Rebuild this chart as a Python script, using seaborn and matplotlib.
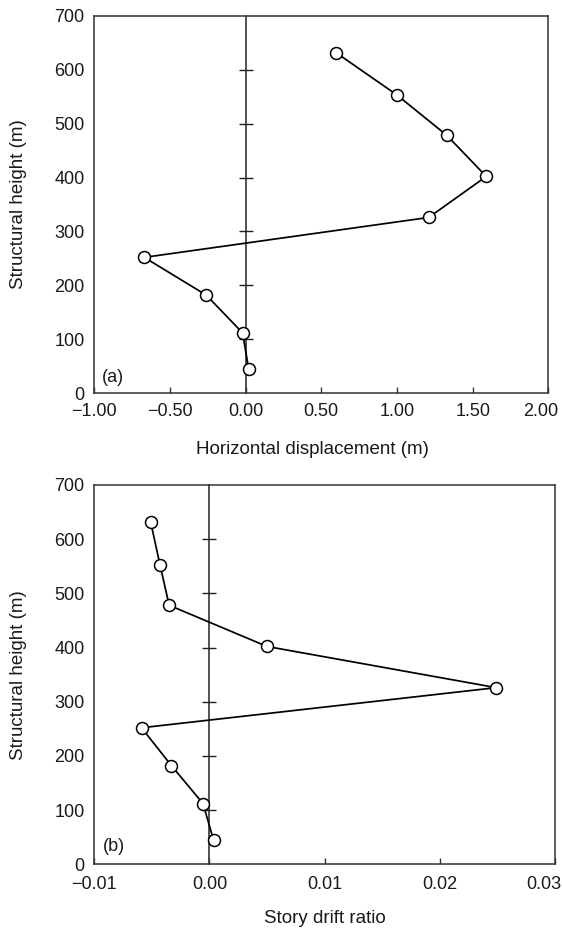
import numpy as np
import pandas as pd
import matplotlib
matplotlib.use("Agg")
import matplotlib.pyplot as plt
import matplotlib.transforms as mtransforms
import seaborn as sns

# ---- data ----
heights = [45, 112, 182, 252, 326, 402, 478, 553, 631]
displacement = [0.02, -0.02, -0.26, -0.67, 1.21, 1.59, 1.33, 1.00, 0.60]
drift_ratio = [0.00035, -0.00056, -0.0033, -0.0059, 0.0249, 0.0050, -0.0035, -0.0043, -0.0051]

disp_ticks = [-1.0, -0.5, 0.0, 0.5, 1.0, 1.5, 2.0]
disp_ticklabels = ["\u22121.00", "\u22120.50", "0.00", "0.50", "1.00", "1.50", "2.00"]
drift_ticks = [-0.01, 0.0, 0.01, 0.02, 0.03]
drift_ticklabels = ["\u22120.01", "0.00", "0.01", "0.02", "0.03"]
height_ticks = [0, 100, 200, 300, 400, 500, 600, 700]
inner_ticks = [100, 200, 300, 400, 500, 600]

sns.set_theme(style="white")
plt.rcParams["font.family"] = ["Liberation Sans", "DejaVu Sans"]
plt.rcParams["font.size"] = 13

W, H = 562, 932
fig = plt.figure(figsize=(W/100, H/100), dpi=100)
ax1 = fig.add_axes([94.3/W, 1-393.3/H, 454/W, 377.6/H])
ax2 = fig.add_axes([94.3/W, 1-864.3/H, 460.7/W, 379.3/H])

panels = [
    (ax1, displacement, (-1.0, 2.0), disp_ticks, disp_ticklabels, "Horizontal displacement (m)", "(a)",
     7.0, (0.48, -0.126), -0.148, (0.016, 0.043), -8),
    (ax2, drift_ratio, (-0.01, 0.03), drift_ticks, drift_ticklabels, "Story drift ratio", "(b)",
     8.5, (0.5, -0.120), -0.146, (0.018, 0.046), -11),
]

ink = "#1a1a1a"
for ax, xs, xlim, xt, xtl, xlabel, tag, xpad, xlc, ylx, tagpos, last_shift in panels:
    df = pd.DataFrame({"x": xs, "h": heights})
    sns.lineplot(data=df, x="x", y="h", sort=False, estimator=None, ax=ax,
                 color="black", linewidth=1.25, marker="o", markersize=8.6,
                 markerfacecolor="white", markeredgecolor="black", markeredgewidth=1.1,
                 zorder=5)
    ax.set_xlim(*xlim)
    ax.set_ylim(0, 700)
    ax.set_xticks(xt)
    ax.set_xticklabels(xtl)
    ax.set_yticks(height_ticks)
    ax.tick_params(axis="x", direction="in", length=4.3, width=1, color="#333333",
                   labelsize=13, pad=xpad, bottom=True, labelcolor=ink)
    ax.tick_params(axis="y", length=0, labelsize=13, pad=7, labelcolor=ink)
    for sp in ax.spines.values():
        sp.set_visible(True)
        sp.set_linewidth(1.1)
        sp.set_color("#333333")
    ax.set_xlabel(xlabel, fontsize=13.5, color=ink)
    ax.set_ylabel("Structural height (m)", fontsize=13.5, color=ink)
    ax.xaxis.set_label_coords(*xlc)
    ax.yaxis.set_label_coords(ylx, 0.5)
    ax.grid(False)

    # keep the right-most tick label inside the figure
    lab = ax.get_xticklabels()[-1]
    lab.set_transform(lab.get_transform() +
                      mtransforms.ScaledTranslation(last_shift/100, 0, fig.dpi_scale_trans))

    # zero line with crossing ticks
    sec = ax.secondary_yaxis(0.0, transform=ax.transData)
    sec.set_yticks(inner_ticks)
    sec.tick_params(direction="inout", length=9.5, width=1, color="#222222",
                    labelleft=False, labelright=False)
    sec.spines["left"].set_linewidth(1.1)
    sec.spines["left"].set_color("#222222")

    ax.text(tagpos[0], tagpos[1], tag, transform=ax.transAxes, fontsize=13,
            va="center", ha="left", color=ink)

fig.savefig("out.png", dpi=100)
